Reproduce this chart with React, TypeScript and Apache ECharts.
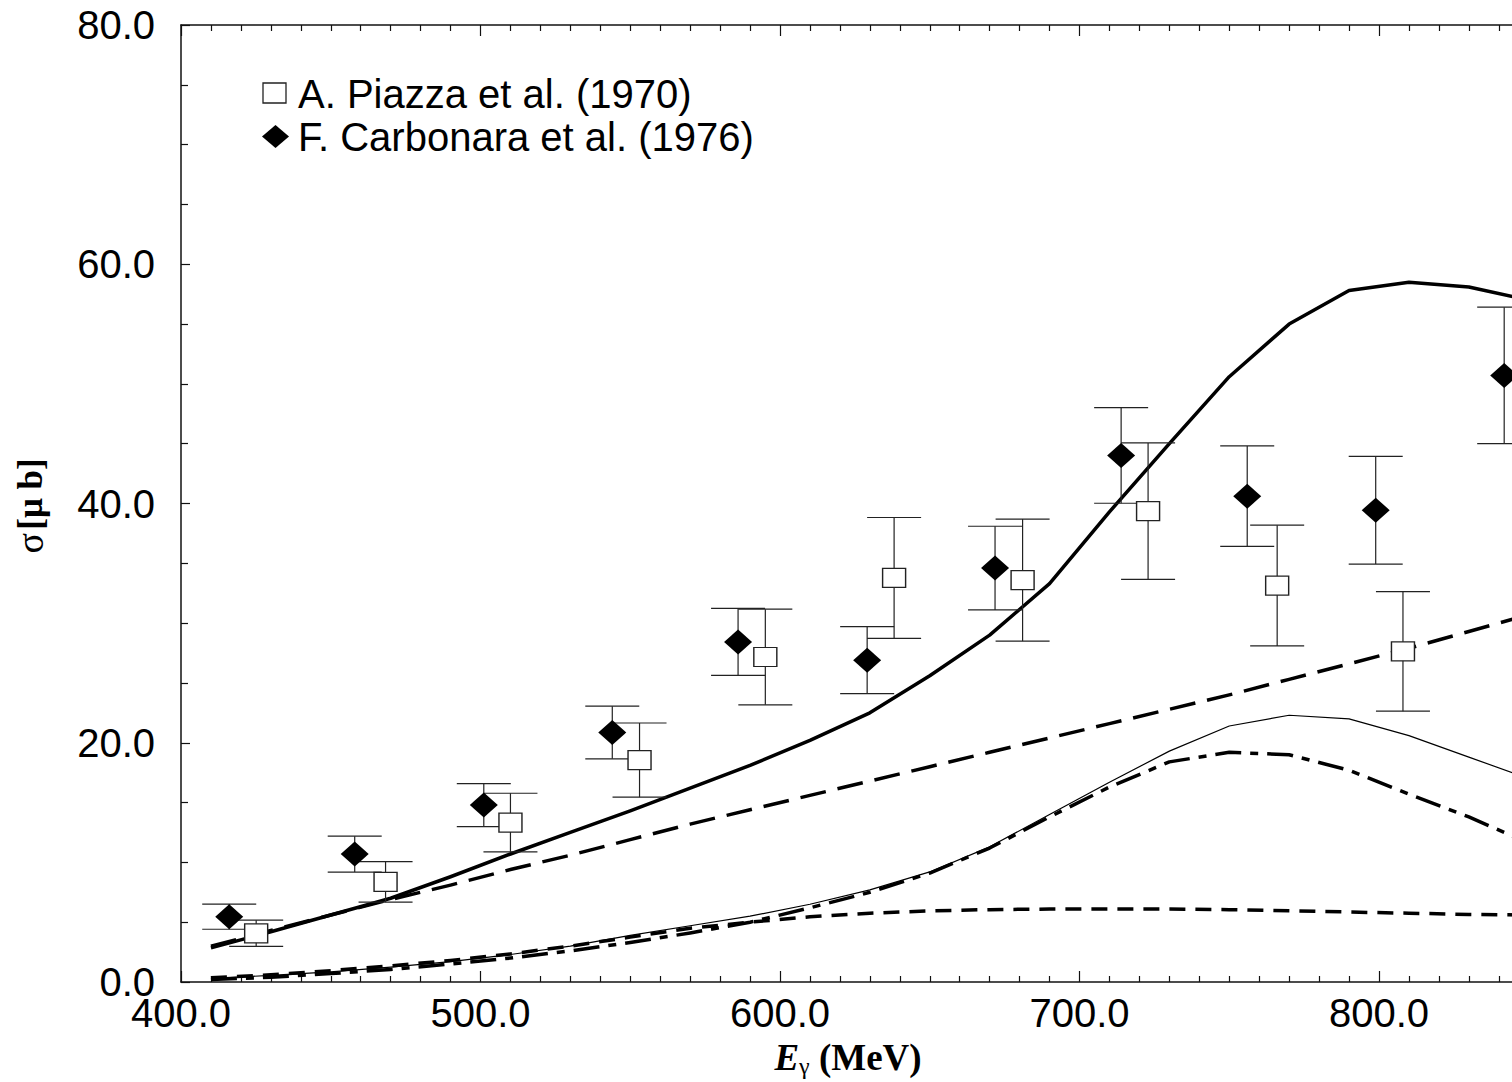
import React, { useEffect, useRef } from "react";
import * as echarts from "echarts";

// Photon energy grid of the model curves (MeV)
const curveE = [410, 430, 450, 470, 490, 510, 530, 550, 570, 590, 610, 630, 650, 670, 690, 710, 730, 750, 770, 790, 810, 830, 850];
// Thick solid: full model
const totalCurve = [2.85, 4.2, 5.6, 7.0, 8.8, 10.7, 12.5, 14.3, 16.2, 18.1, 20.2, 22.5, 25.6, 29.0, 33.3, 39.3, 45.0, 50.6, 55.0, 57.8, 58.5, 58.1, 57.0];
// Long dashed
const longDashCurve = [3.0, 4.3, 5.6, 6.9, 8.1, 9.4, 10.6, 11.9, 13.2, 14.4, 15.6, 16.8, 18.0, 19.2, 20.4, 21.6, 22.8, 24.0, 25.3, 26.6, 27.9, 29.3, 30.7];
// Thin solid
const thinCurve = [0.3, 0.55, 0.85, 1.25, 1.7, 2.3, 3.0, 3.9, 4.7, 5.5, 6.5, 7.7, 9.2, 11.3, 14.0, 16.7, 19.3, 21.4, 22.3, 22.0, 20.6, 18.8, 17.0];
// Dash-dot
const dashDotCurve = [0.2, 0.4, 0.7, 1.05, 1.5, 2.0, 2.6, 3.3, 4.1, 5.0, 6.2, 7.5, 9.1, 11.2, 13.8, 16.3, 18.4, 19.2, 19.0, 17.7, 15.7, 13.8, 11.6];
// Short dashed
const shortDashCurve = [0.35, 0.6, 0.95, 1.35, 1.8, 2.35, 3.0, 3.75, 4.5, 5.0, 5.45, 5.75, 5.95, 6.05, 6.1, 6.1, 6.1, 6.05, 5.95, 5.85, 5.75, 5.65, 5.6];

// A. Piazza et al. (1970)
const piazzaE = [425.1, 468.3, 510.0, 553.1, 595.1, 638.1, 681.0, 722.9, 766.0, 808.0];
const piazzaSigma = [4.07, 8.37, 13.33, 18.55, 27.17, 33.78, 33.6, 39.36, 33.14, 27.64];
const piazzaErr = [1.1, 1.7, 2.45, 3.1, 4.0, 5.05, 5.1, 5.7, 5.05, 5.0];

// F. Carbonara et al. (1976)
const carbonaraE = [416.1, 458.0, 501.1, 544.0, 586.0, 629.1, 671.8, 713.9, 756.0, 798.9, 841.8];
const carbonaraSigma = [5.46, 10.69, 14.79, 20.86, 28.43, 26.9, 34.6, 44.02, 40.61, 39.44, 50.71];
const carbonaraErr = [1.05, 1.5, 1.8, 2.2, 2.8, 2.8, 3.5, 4.0, 4.2, 4.5, 5.7];

const legendNames = ["A. Piazza et al. (1970)", "F. Carbonara et al. (1976)"];

const SANS = "'Liberation Sans', Arial, sans-serif";
const SERIF = "'Liberation Serif', 'Times New Roman', serif";

const pairs = (xs: number[], ys: number[]) => xs.map((x, i) => [x, ys[i]]);
const errRows = (xs: number[], ys: number[], es: number[]) =>
  xs.map((x, i) => [x, ys[i] - es[i], ys[i] + es[i]]);

const errorBarSeries = (rows: number[][]) => ({
  type: "custom",
  xAxisIndex: 0,
  yAxisIndex: 0,
  z: 3,
  silent: true,
  data: rows,
  renderItem: (_params: any, api: any) => {
    const x = api.value(0);
    const lo = api.coord([x, api.value(1)]);
    const hi = api.coord([x, api.value(2)]);
    const hw = 27;
    const st = { stroke: "#222", lineWidth: 1.2 };
    return {
      type: "group",
      children: [
        { type: "line", shape: { x1: lo[0], y1: lo[1], x2: hi[0], y2: hi[1] }, style: st },
        { type: "line", shape: { x1: lo[0] - hw, y1: lo[1], x2: lo[0] + hw, y2: lo[1] }, style: st },
        { type: "line", shape: { x1: hi[0] - hw, y1: hi[1], x2: hi[0] + hw, y2: hi[1] }, style: st },
      ],
    };
  },
});

const curve = (ys: number[], width: number, type: any) => ({
  type: "line",
  xAxisIndex: 0,
  yAxisIndex: 0,
  data: pairs(curveE, ys),
  symbol: "none",
  smooth: false,
  z: 2,
  silent: true,
  lineStyle: { color: "#000", width, type, cap: "butt", join: "round" },
});

const xAxisCommon = {
  type: "value",
  min: 400,
  max: 900,
  interval: 100,
  splitLine: { show: false },
  axisLine: { show: true, onZero: false, lineStyle: { color: "#111", width: 1.5 } },
  axisTick: { show: true, inside: true, length: 11, lineStyle: { color: "#111", width: 1.2 } },
  minorTick: { show: true, splitNumber: 10, length: 6, lineStyle: { color: "#111", width: 1.2 } },
};

// The chart canvas is wider than the window; the window crops it at the right.
const CANVAS_W = 1700;

export default function App() {
  const ref = useRef<HTMLDivElement>(null);

  useEffect(() => {
    if (!ref.current) return;
    const chart = echarts.init(ref.current, null, { renderer: "svg" });
    chart.setOption({
      animation: false,
      backgroundColor: "#fff",
      grid: { left: 181, top: 25, width: 1497.5, height: 957, containLabel: false },
      xAxis: [
        {
          ...xAxisCommon,
          position: "bottom",
          axisLabel: {
            show: true,
            showMaxLabel: false,
            margin: 16,
            color: "#000",
            fontSize: 40,
            lineHeight: 30,
            fontFamily: SANS,
            formatter: (v: number) => v.toFixed(1),
          },
        },
        {
          ...xAxisCommon,
          position: "top",
          axisLabel: { show: false },
        },
      ],
      yAxis: [
        {
          type: "value",
          min: 0,
          max: 80,
          interval: 20,
          position: "left",
          splitLine: { show: false },
          axisLine: { show: true, onZero: false, lineStyle: { color: "#111", width: 1.5 } },
          axisTick: { show: true, inside: true, length: 9, lineStyle: { color: "#111", width: 1.2 } },
          minorTick: { show: true, splitNumber: 4, length: 7, lineStyle: { color: "#111", width: 1.2 } },
          axisLabel: {
            show: true,
            margin: 26,
            color: "#000",
            fontSize: 40,
            lineHeight: 30,
            fontFamily: SANS,
            formatter: (v: number) => v.toFixed(1),
          },
        },
      ],
      series: [
        curve(shortDashCurve, 3.5, [16, 10]),
        curve(dashDotCurve, 3.5, [26, 9, 8, 9]),
        curve(thinCurve, 1.2, "solid"),
        curve(longDashCurve, 3.5, [26, 12]),
        curve(totalCurve, 3.5, "solid"),
        errorBarSeries(errRows(piazzaE, piazzaSigma, piazzaErr)),
        errorBarSeries(errRows(carbonaraE, carbonaraSigma, carbonaraErr)),
        {
          name: legendNames[0],
          type: "scatter",
          xAxisIndex: 0,
          yAxisIndex: 0,
          z: 5,
          silent: true,
          symbol: "rect",
          symbolSize: [23, 19],
          data: pairs(piazzaE, piazzaSigma),
          itemStyle: { color: "#fff", borderColor: "#222", borderWidth: 1.3, opacity: 1 },
        },
        {
          name: legendNames[1],
          type: "scatter",
          xAxisIndex: 0,
          yAxisIndex: 0,
          z: 5,
          silent: true,
          symbol: "diamond",
          symbolSize: [28, 25],
          data: pairs(carbonaraE, carbonaraSigma),
          itemStyle: { color: "#000", opacity: 1 },
        },
      ],
      graphic: [
        {
          type: "rect",
          shape: { x: 263, y: 83, width: 23, height: 20 },
          style: { fill: "#fff", stroke: "#222", lineWidth: 1.3 },
          z: 10,
        },
        {
          type: "text",
          x: 298,
          y: 94,
          z: 10,
          style: { text: legendNames[0], fontSize: 40, fontFamily: SANS, fill: "#000", align: "left", verticalAlign: "middle" },
        },
        {
          type: "polygon",
          shape: { points: [[275.5, 125], [289, 136.5], [275.5, 148], [262, 136.5]] },
          style: { fill: "#000" },
          z: 10,
        },
        {
          type: "text",
          x: 298,
          y: 137,
          z: 10,
          style: { text: legendNames[1], fontSize: 40, fontFamily: SANS, fill: "#000", align: "left", verticalAlign: "middle" },
        },
        {
          type: "text",
          x: 848,
          y: 1057,
          z: 10,
          style: {
            text: "{e|E}{g|γ}{m| (MeV)}",
            align: "center",
            verticalAlign: "middle",
            rich: {
              e: { fontFamily: SERIF, fontSize: 37, fontWeight: "bold", fontStyle: "italic", fill: "#000", lineHeight: 42, verticalAlign: "middle" },
              g: { fontFamily: SERIF, fontSize: 24, fill: "#000", lineHeight: 42, verticalAlign: "bottom", padding: [18, 0, 0, 0] },
              m: { fontFamily: SERIF, fontSize: 37, fontWeight: "bold", fill: "#000", lineHeight: 42, verticalAlign: "middle" },
            },
          },
        },
        {
          type: "text",
          x: 30,
          y: 506,
          rotation: Math.PI / 2,
          z: 10,
          style: {
            text: "{s|σ} {b|[μ b]}",
            align: "center",
            verticalAlign: "middle",
            rich: {
              s: { fontFamily: SERIF, fontSize: 38, fill: "#000" },
              b: { fontFamily: SERIF, fontSize: 35, fontWeight: "bold", fill: "#000" },
            },
          },
        },
      ],
    });
    return () => chart.dispose();
  }, []);

  return (
    <div
      ref={ref}
      style={{ position: "fixed", left: 0, top: 0, width: CANVAS_W, height: 1082, background: "#fff" }}
    />
  );
}
